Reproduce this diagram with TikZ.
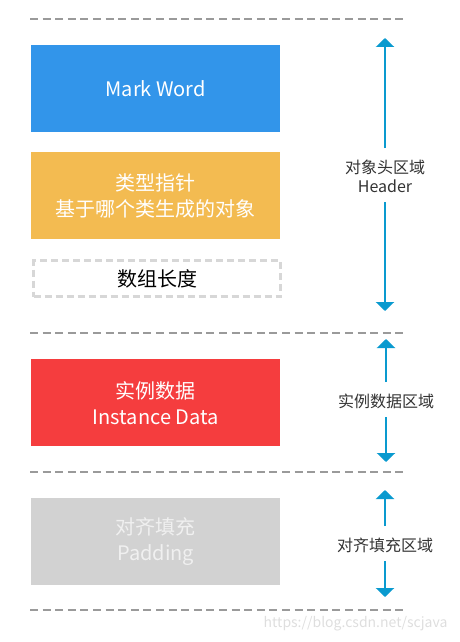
\documentclass[tikz,border=0pt]{standalone}
\usepackage{fontspec}
\setmainfont{Noto Sans CJK SC}
\usetikzlibrary{arrows.meta}
\definecolor{cblue}{HTML}{3295EA}
\definecolor{cyellow}{HTML}{F3BB51}
\definecolor{cred}{HTML}{F53D3E}
\definecolor{cgray}{HTML}{D2D2D2}
\definecolor{carrow}{HTML}{0A9ACF}
\definecolor{cdash}{HTML}{9A9A9A}
\definecolor{ctext}{HTML}{333333}
\begin{document}
\begin{tikzpicture}[x=1pt,y=-1pt,
  sep/.style={draw=cdash,line width=1.6pt,dash pattern=on 8pt off 4.6pt},
  blk/.style={anchor=north west,minimum width=249pt,minimum height=87pt,inner sep=0pt,text=white,font=\fontsize{20}{26}\selectfont,align=center},
  dbox/.style={anchor=north west,minimum width=247pt,minimum height=36pt,inner sep=0pt,draw=cgray!90,line width=3pt,dash pattern=on 7pt off 4pt,font=\fontsize{20}{24}\selectfont,text=black},
  lbl/.style={font=\fontsize{16}{19}\selectfont,text=ctext,align=center},
  arr/.style={draw=carrow,line width=2.6pt,-{Triangle[width=18pt,length=9pt]}}]
\useasboundingbox (0,0) rectangle (460,642);
% separators
\coordinate (s1a) at (30,19); \coordinate (s1b) at (406,19);
\coordinate (s2a) at (30,333); \coordinate (s2b) at (406,333);
\coordinate (s3a) at (30,472); \coordinate (s3b) at (406,472);
\coordinate (s4a) at (30,610); \coordinate (s4b) at (406,610);
\draw[sep] (s1a) -- (s1b);
\draw[sep] (s2a) -- (s2b);
\draw[sep] (s3a) -- (s3b);
\draw[sep] (s4a) -- (s4b);
% blocks
\node[blk,fill=cblue] (mw) at (31,45) {Mark Word};
\node[blk,fill=cyellow] (kp) at (31,152) {类型指针\\基于哪个类生成的对象};
\node[dbox] (al) at (32,259) {数组长度};
\node[blk,fill=cred] (id) at (31,359) {实例数据\\Instance Data};
\node[blk,fill=cgray,text=white!94!black] (pd) at (31,498) {对齐填充\\Padding};
% region labels
\node[lbl] (hl) at (385,176) {对象头区域\\Header};
\node[lbl] (il) at (386,401) {实例数据区域};
\node[lbl] (pl) at (385,545) {对齐填充区域};
% arrows
\coordinate (h1) at (385,148); \coordinate (h1t) at (385,38);
\coordinate (h2) at (385,202); \coordinate (h2t) at (385,311);
\coordinate (i1) at (386,382); \coordinate (i1t) at (386,339);
\coordinate (i2) at (386,417); \coordinate (i2t) at (386,462);
\coordinate (p1) at (385,526); \coordinate (p1t) at (385,490);
\coordinate (p2) at (385,561); \coordinate (p2t) at (385,597);
\draw[arr] (h1) -- (h1t);
\draw[arr] (h2) -- (h2t);
\draw[arr] (i1) -- (i1t);
\draw[arr] (i2) -- (i2t);
\draw[arr] (p1) -- (p1t);
\draw[arr] (p2) -- (p2t);
% watermark
\node[font=\fontsize{14}{16}\selectfont,text=black!13,anchor=east] (wm) at (451,624) {https://blog.csdn.net/scjava};
\end{tikzpicture}
\end{document}
